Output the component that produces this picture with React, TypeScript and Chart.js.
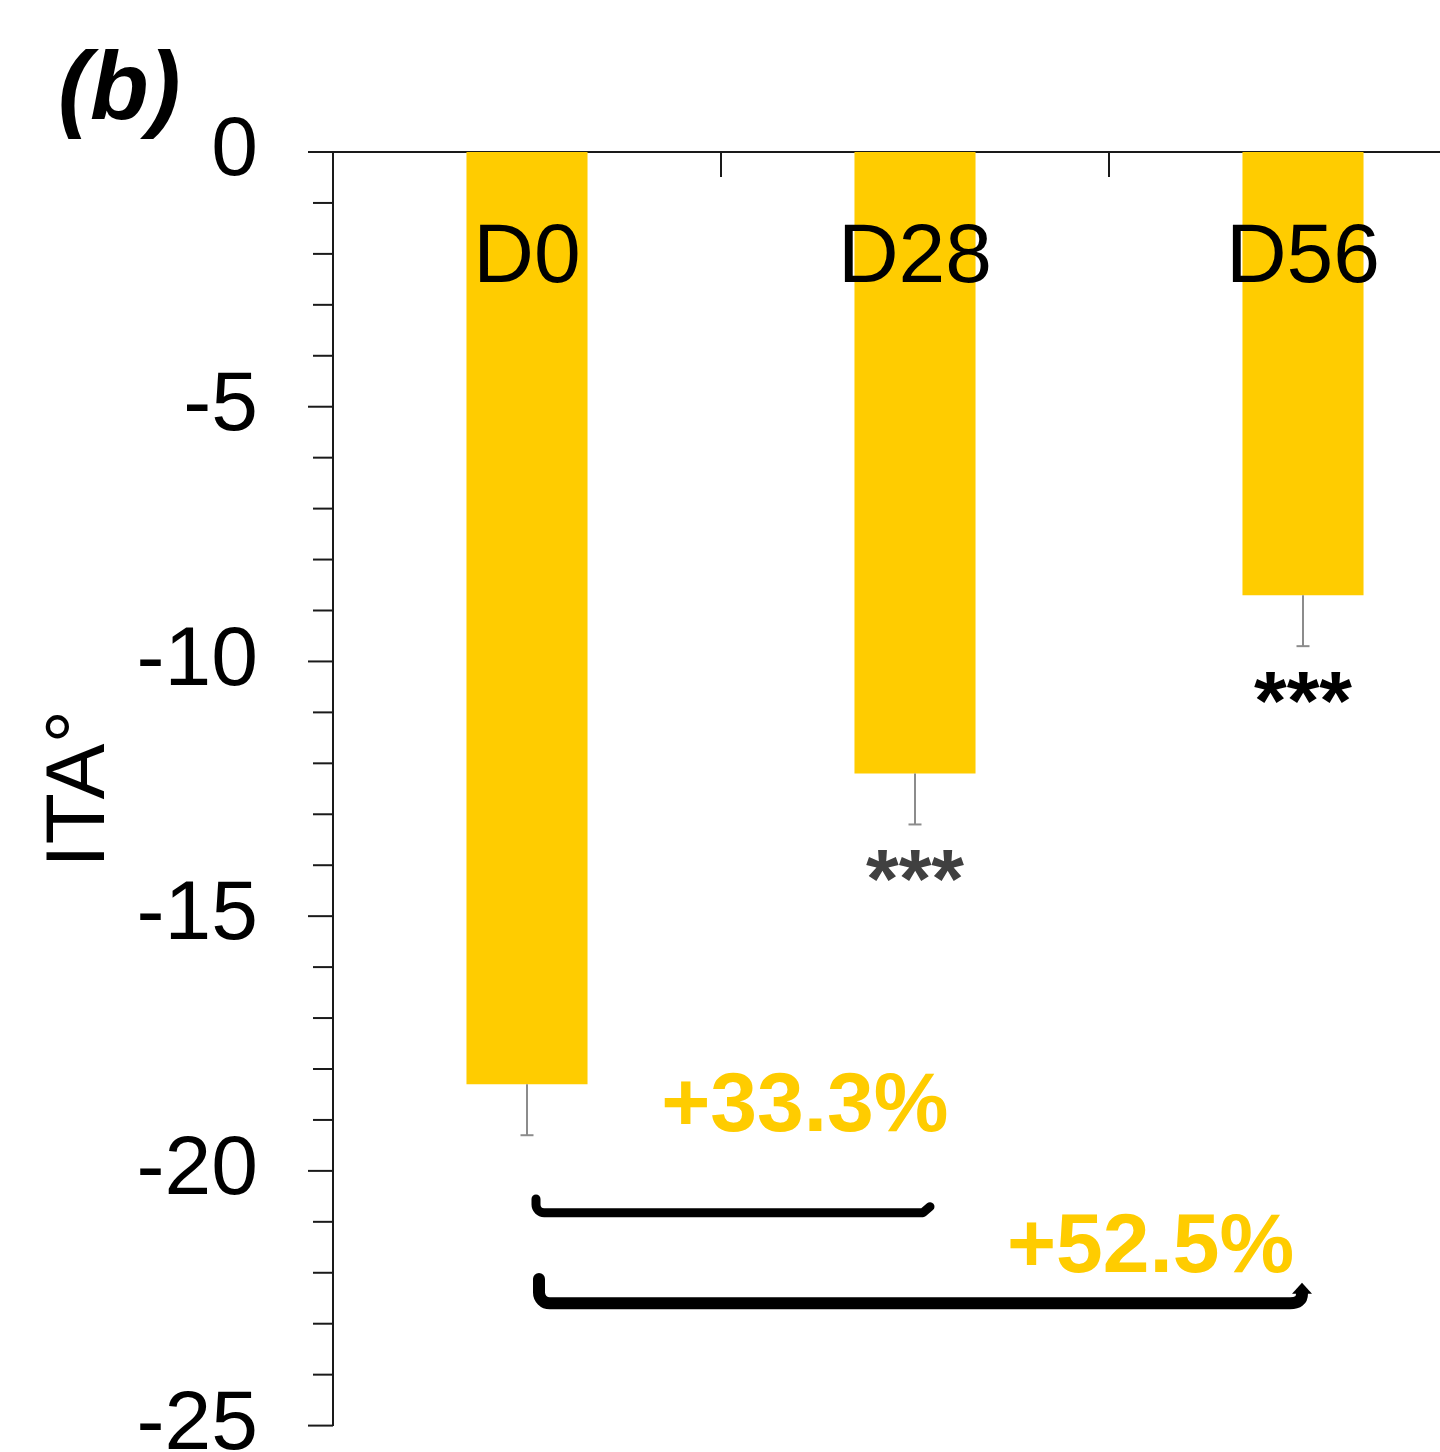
import React, { useEffect, useRef } from 'react';
import { Chart, registerables } from 'chart.js';

Chart.register(...registerables);

// ---- data ----
const categories = ['D0', 'D28', 'D56'];
const itaMeans = [-18.3, -12.2, -8.7];
const itaErrors = [1.0, 1.0, 1.0];
const significanceMarks = ['', '***', '***'];
const significanceColors = ['#000000', '#404040', '#000000'];
const changeLabels = ['+33.3%', '+52.5%'];
const changeTargets = [1, 2];
const yMin = -25;
const yMax = 0;
const yMinorStep = 1;
const yMajorStep = 5;
const yTitle = 'ITA°';
const panelLabel = '(b)';

// ---- style ----
const FONT = '"Liberation Sans", Arial, Helvetica, sans-serif';
const BAR_COLOR = '#FFCC00';
const AXIS_COLOR = '#1a1a1a';

function drawBracket(
  ctx: CanvasRenderingContext2D,
  xl: number,
  xr: number,
  yLine: number,
  yHook: number,
  lw: number,
  arrow: boolean
) {
  ctx.save();
  ctx.strokeStyle = '#000';
  ctx.fillStyle = '#000';
  ctx.lineWidth = lw;
  ctx.lineCap = 'round';
  ctx.lineJoin = 'round';
  const r = lw;
  ctx.beginPath();
  ctx.moveTo(xl, yHook);
  ctx.arcTo(xl, yLine, xl + r, yLine, r * 0.9);
  if (arrow) {
    ctx.lineTo(xr - r, yLine);
    ctx.quadraticCurveTo(xr, yLine, xr, yLine - r * 0.8);
  } else {
    ctx.lineTo(xr - 7, yLine);
    ctx.lineTo(xr, yLine - 6);
  }
  ctx.stroke();
  if (arrow) {
    const baseY = yLine - r * 0.8;
    ctx.beginPath();
    ctx.moveTo(xr - 10, baseY);
    ctx.lineTo(xr, baseY - 11);
    ctx.lineTo(xr + 10, baseY);
    ctx.closePath();
    ctx.fill();
  }
  ctx.restore();
}

const overlayPlugin = {
  id: 'overlay',
  afterDraw(chart: any) {
    const ctx: CanvasRenderingContext2D = chart.ctx;
    const xs = chart.scales.x;
    const ys = chart.scales.y;
    const area = chart.chartArea;
    ctx.save();

    // y-axis tick marks (major / minor)
    ctx.strokeStyle = AXIS_COLOR;
    ctx.lineWidth = 2;
    ys.ticks.forEach((t: any) => {
      const py = ys.getPixelForValue(t.value);
      const len = Math.abs(t.value % yMajorStep) < 1e-9 ? 25 : 20;
      ctx.beginPath();
      ctx.moveTo(area.left - len, py);
      ctx.lineTo(area.left, py);
      ctx.stroke();
    });

    // x-axis category boundary ticks (pointing into plot)
    for (let i = 1; i < categories.length; i++) {
      const px = (xs.getPixelForValue(i - 1) + xs.getPixelForValue(i)) / 2;
      ctx.beginPath();
      ctx.moveTo(px, area.top);
      ctx.lineTo(px, area.top + 25);
      ctx.stroke();
    }

    // error bars
    ctx.strokeStyle = '#8c8c8c';
    ctx.lineWidth = 2;
    itaMeans.forEach((v, i) => {
      const px = xs.getPixelForValue(i);
      const p0 = ys.getPixelForValue(v);
      const p1 = ys.getPixelForValue(v - itaErrors[i]);
      ctx.beginPath();
      ctx.moveTo(px, p0);
      ctx.lineTo(px, p1);
      ctx.stroke();
      ctx.beginPath();
      ctx.moveTo(px - 6.5, p1);
      ctx.lineTo(px + 6.5, p1);
      ctx.stroke();
    });

    // significance marks
    ctx.font = `bold 84px ${FONT}`;
    ctx.textAlign = 'center';
    ctx.textBaseline = 'alphabetic';
    itaMeans.forEach((v, i) => {
      if (!significanceMarks[i]) return;
      const px = xs.getPixelForValue(i);
      const p1 = ys.getPixelForValue(v - itaErrors[i]);
      ctx.fillStyle = significanceColors[i];
      ctx.fillText(significanceMarks[i], px, p1 + 84);
    });

    // category labels inside bars
    ctx.fillStyle = '#000';
    ctx.font = `84px ${FONT}`;
    categories.forEach((c, i) => {
      ctx.fillText(c, xs.getPixelForValue(i), area.top + 130);
    });

    // brackets and change labels
    const c0 = xs.getPixelForValue(0);
    const b1r = xs.getPixelForValue(changeTargets[0]);
    const b2r = xs.getPixelForValue(changeTargets[1]);
    drawBracket(ctx, c0 + 9, b1r + 15, ys.getPixelForValue(-20.82), ys.getPixelForValue(-20.55), 9, false);
    drawBracket(ctx, c0 + 12, b2r - 1, ys.getPixelForValue(-22.6), ys.getPixelForValue(-22.12), 12, true);

    ctx.fillStyle = BAR_COLOR;
    ctx.font = `bold 84px ${FONT}`;
    ctx.textAlign = 'center';
    ctx.fillText(changeLabels[0], xs.getPixelForValue(0.716), ys.getPixelForValue(-19.22));
    ctx.fillText(changeLabels[1], xs.getPixelForValue(1.607), ys.getPixelForValue(-21.98));

    // panel label
    ctx.fillStyle = '#000';
    ctx.font = `italic bold 96px ${FONT}`;
    ctx.textAlign = 'left';
    ctx.fillText(panelLabel, 58, 119);

    ctx.restore();
  },
};

export default function App() {
  const canvasRef = useRef<HTMLCanvasElement | null>(null);

  useEffect(() => {
    document.body.style.margin = '0';
    const canvas = canvasRef.current;
    if (!canvas) return;
    const chart = new Chart(canvas, {
      type: 'bar',
      data: {
        labels: categories,
        datasets: [
          {
            data: itaMeans,
            backgroundColor: BAR_COLOR,
            borderWidth: 0,
            barPercentage: 0.312,
            categoryPercentage: 1,
          },
        ],
      },
      options: {
        animation: false,
        responsive: false,
        devicePixelRatio: 1,
        layout: { padding: { left: 0, top: 0, right: 43, bottom: 0 } },
        plugins: {
          legend: { display: false },
          tooltip: { enabled: false },
        },
        scales: {
          x: {
            position: 'top',
            offset: true,
            grid: { display: false, drawTicks: false },
            border: { display: true, color: AXIS_COLOR, width: 2 },
            ticks: { display: false },
            afterFit: (s: any) => {
              s.height = 152;
            },
          },
          y: {
            min: yMin,
            max: yMax,
            grid: { display: false, drawTicks: false },
            border: { display: true, color: AXIS_COLOR, width: 2 },
            ticks: {
              stepSize: yMinorStep,
              autoSkip: false,
              padding: 75,
              color: '#000',
              font: { family: FONT, size: 84 },
              callback: (v: any) => (Math.abs(Number(v) % yMajorStep) < 1e-9 ? String(v) : ''),
            },
            title: {
              display: true,
              text: yTitle,
              color: '#000',
              font: { family: FONT, size: 84 },
              padding: { top: 30, bottom: 0 },
            },
            afterFit: (s: any) => {
              s.width = 333;
            },
          },
        },
      },
      plugins: [overlayPlugin],
    } as any);
    return () => chart.destroy();
  }, []);

  return (
    <div
      style={{
        position: 'fixed',
        left: 0,
        top: 0,
        width: 1440,
        height: 1452,
        overflow: 'hidden',
        background: '#ffffff',
      }}
    >
      <canvas ref={canvasRef} width={1540} height={1551} style={{ display: 'block' }} />
    </div>
  );
}
